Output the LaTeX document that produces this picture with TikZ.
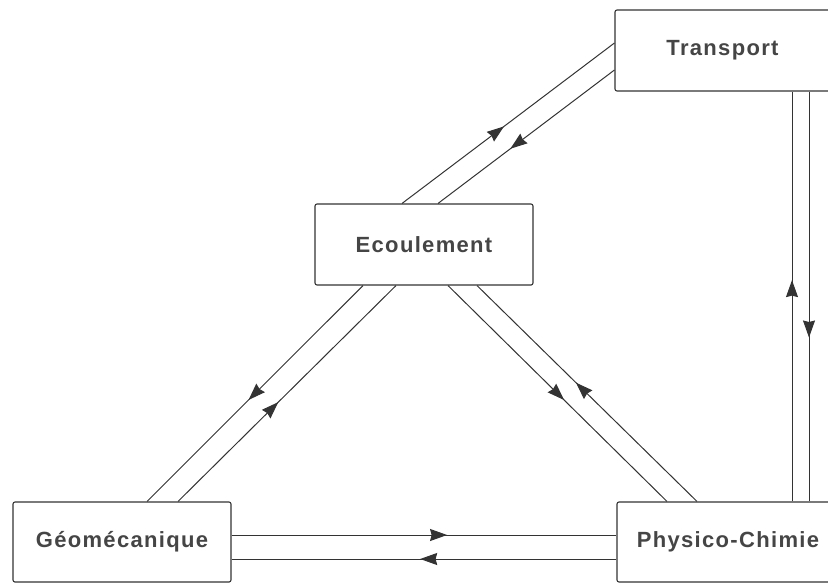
\documentclass[tikz,border=0pt]{standalone}
\usepackage{fontspec}
\setmainfont{Liberation Sans}
\newfontfamily\boxfont[LetterSpace=6]{Liberation Sans}
\usetikzlibrary{arrows.meta,decorations.markings}
\definecolor{ink}{HTML}{333333}
\definecolor{txt}{HTML}{454545}
\tikzset{
  box/.style={draw=ink, line width=1.1pt, rounded corners=2pt, inner sep=0pt,
    font=\boxfont\fontsize{22}{25}\selectfont\bfseries, text=txt},
  link/.style={draw=ink, line width=1pt, postaction={decorate},
    decoration={markings, mark=at position #1 with {\arrow[fill=ink]{Stealth[length=17pt,width=12pt,inset=1.5pt]}}}},
}
\begin{document}
\begin{tikzpicture}[x=1pt,y=-1pt]
\useasboundingbox (0,0) rectangle (828,582);
\clip (0,0) rectangle (828,582);
\node[box, minimum width=215pt, minimum height=81pt] (tr) at (722.5,50.5) {Transport};
\node[box, minimum width=218pt, minimum height=81pt] (ec) at (424,244.5) {Ecoulement};
\node[box, minimum width=218pt, minimum height=80pt] (ge) at (122,542) {Géomécanique};
\node[box, minimum width=222pt, minimum height=80pt] (pc) at (728,542) {Physico-Chimie};
% Ecoulement <-> Transport
\draw[link=0.48] ([xshift=-22pt]ec.north) -- ([yshift=7.5pt]tr.west);
\draw[link=0.59] ([yshift=-19.5pt]tr.west) -- ([xshift=14pt]ec.north);
% Ecoulement <-> Geomecanique
\draw[link=0.53] ([xshift=-61pt]ec.south) -- ([xshift=25pt]ge.north);
\draw[link=0.46] ([xshift=56pt]ge.north) -- ([xshift=-28pt]ec.south);
% Ecoulement <-> Physico-Chimie
\draw[link=0.53] ([xshift=24pt]ec.south) -- ([xshift=-61pt]pc.north);
\draw[link=0.55] ([xshift=-31pt]pc.north) -- ([xshift=53pt]ec.south);
% Transport <-> Physico-Chimie
\draw[link=0.54] ([xshift=64pt]pc.north) -- ([xshift=69.5pt]tr.south);
\draw[link=0.60] ([xshift=86.5pt]tr.south) -- ([xshift=81pt]pc.north);
% Geomecanique <-> Physico-Chimie
\draw[link=0.56] ([yshift=7pt]ge.east) -- ([yshift=7pt]pc.west);
\draw[link=0.51] ([yshift=-17pt]pc.west) -- ([yshift=-17pt]ge.east);
\end{tikzpicture}
\end{document}
